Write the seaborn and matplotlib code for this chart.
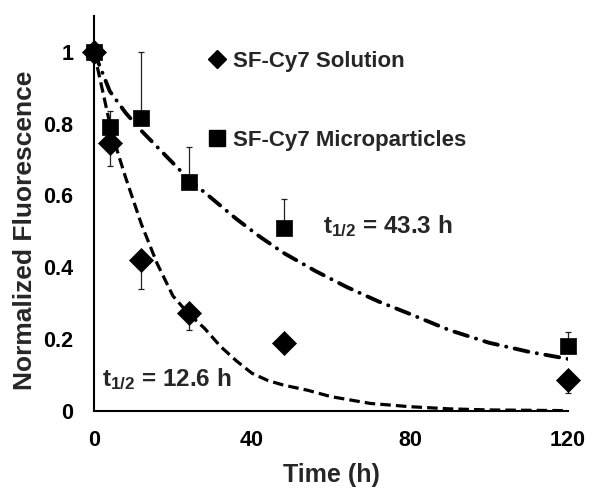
import matplotlib
matplotlib.use('Agg')
import matplotlib.pyplot as plt
import seaborn as sns
import pandas as pd
from matplotlib.lines import Line2D

# measured points
time_h = [0, 4, 12, 24, 48, 120]
solution = [1.0, 0.746, 0.419, 0.273, 0.189, 0.086]
solution_err = [0.0, 0.064, 0.080, 0.047, 0.0, 0.035]
micro = [1.0, 0.790, 0.816, 0.638, 0.510, 0.181]
micro_err = [0.0, 0.046, 0.184, 0.097, 0.080, 0.039]

# fitted decay curves
fit_time_sol = [0, 2, 4, 6, 8, 12, 16, 20, 24, 28, 32, 36, 40, 44, 48, 54, 60, 70, 80, 90, 100, 110, 120]
fit_sol = [1.0, 0.90, 0.80, 0.72, 0.65, 0.52, 0.41, 0.32, 0.27, 0.23, 0.18, 0.14, 0.105, 0.085,
           0.072, 0.058, 0.040, 0.021, 0.012, 0.006, 0.003, 0.002, 0.001]
fit_time_micro = [0, 4, 8, 12, 16, 20, 24, 30, 36, 42, 48, 56, 64, 72, 80, 90, 100, 110, 120]
fit_micro = [1.0, 0.89, 0.83, 0.78, 0.735, 0.69, 0.645, 0.59, 0.535, 0.485, 0.44, 0.39, 0.345,
             0.305, 0.27, 0.225, 0.19, 0.165, 0.145]

x_ticks = [0, 40, 80, 120]
y_ticks = [0, 0.2, 0.4, 0.6, 0.8, 1]
y_tick_labels = ['0', '0.2', '0.4', '0.6', '0.8', '1']

sns.set_theme(style='white')
plt.rcParams['font.family'] = ['Liberation Sans', 'DejaVu Sans']
plt.rcParams['font.weight'] = 'bold'
plt.rcParams['mathtext.fontset'] = 'custom'
plt.rcParams['mathtext.rm'] = 'Liberation Sans:bold'
plt.rcParams['mathtext.it'] = 'Liberation Sans:bold'
plt.rcParams['mathtext.default'] = 'rm'

fig = plt.figure(figsize=(6.01, 4.94), dpi=100)
ax = fig.add_axes([0.1564, 0.168, 0.7887, 0.800])

fit_sol_df = pd.DataFrame({'t': fit_time_sol, 'y': fit_sol})
fit_mic_df = pd.DataFrame({'t': fit_time_micro, 'y': fit_micro})
sns.lineplot(data=fit_sol_df, x='t', y='y', ax=ax, color='black', lw=2.3,
             dashes=False, zorder=2)
sns.lineplot(data=fit_mic_df, x='t', y='y', ax=ax, color='black', lw=2.8,
             dashes=False, zorder=2)
ax.lines[0].set_dashes((3.3, 1.6))
ax.lines[0].set_dash_capstyle('butt')
ax.lines[1].set_dashes((3.6, 2.2, 0.05, 2.2))
ax.lines[1].set_dash_capstyle('round')

# error bars: diamonds downward, squares upward
ax.errorbar(time_h, solution, yerr=[solution_err, [0] * len(time_h)], fmt='none',
            ecolor='#222222', elinewidth=0.9, capsize=2.2, capthick=0.9, zorder=3, clip_on=False)
ax.errorbar(time_h, micro, yerr=[[0] * len(time_h), micro_err], fmt='none',
            ecolor='#222222', elinewidth=0.9, capsize=2.2, capthick=0.9, zorder=3, clip_on=False)

pts = pd.DataFrame({'t': time_h, 'sol': solution, 'mic': micro})
sns.scatterplot(data=pts, x='t', y='mic', marker='s', s=120, color='black',
                edgecolor='black', linewidth=0.5, ax=ax, zorder=4, clip_on=False)
sns.scatterplot(data=pts, x='t', y='sol', marker='D', s=150, color='black',
                edgecolor='black', linewidth=0.5, ax=ax, zorder=5, clip_on=False)

ax.set_xlim(0, 120)
ax.set_ylim(0, 1.1)
ax.set_xticks(x_ticks)
ax.set_yticks(y_ticks)
ax.set_yticklabels(y_tick_labels)
ax.tick_params(axis='both', length=0, labelsize=15.5, colors='black')
ax.tick_params(axis='y', pad=15)
ax.tick_params(axis='x', pad=14)
for lab in ax.get_xticklabels() + ax.get_yticklabels():
    lab.set_fontweight('bold')

sns.despine(ax=ax)
for side in ['left', 'bottom']:
    ax.spines[side].set_color('black')
    ax.spines[side].set_linewidth(1.5)

ax.set_xlabel('Time (h)', fontsize=18, fontweight='bold', labelpad=8)
ax.set_ylabel('Normalized Fluorescence', fontsize=19, fontweight='bold')
ax.yaxis.set_label_coords(-0.12, 0.458)

handles = [Line2D([], [], marker='D', ls='none', color='black', ms=9),
           Line2D([], [], marker='s', ls='none', color='black', ms=11)]
ax.legend(handles, ['SF-Cy7 Solution', 'SF-Cy7 Microparticles'], loc='upper left',
          bbox_to_anchor=(0.213, 0.939), frameon=False, borderpad=0, handlelength=1,
          handletextpad=0.2, labelspacing=2.6, prop={'size': 16, 'weight': 'bold'})

ax.text(58, 0.496, 't$_{1/2}$ = 43.3 h', fontsize=17.5, fontweight='bold', va='baseline')
ax.text(2, 0.07, 't$_{1/2}$ = 12.6 h', fontsize=17.5, fontweight='bold', va='baseline')

fig.savefig('out.png', dpi=100)
